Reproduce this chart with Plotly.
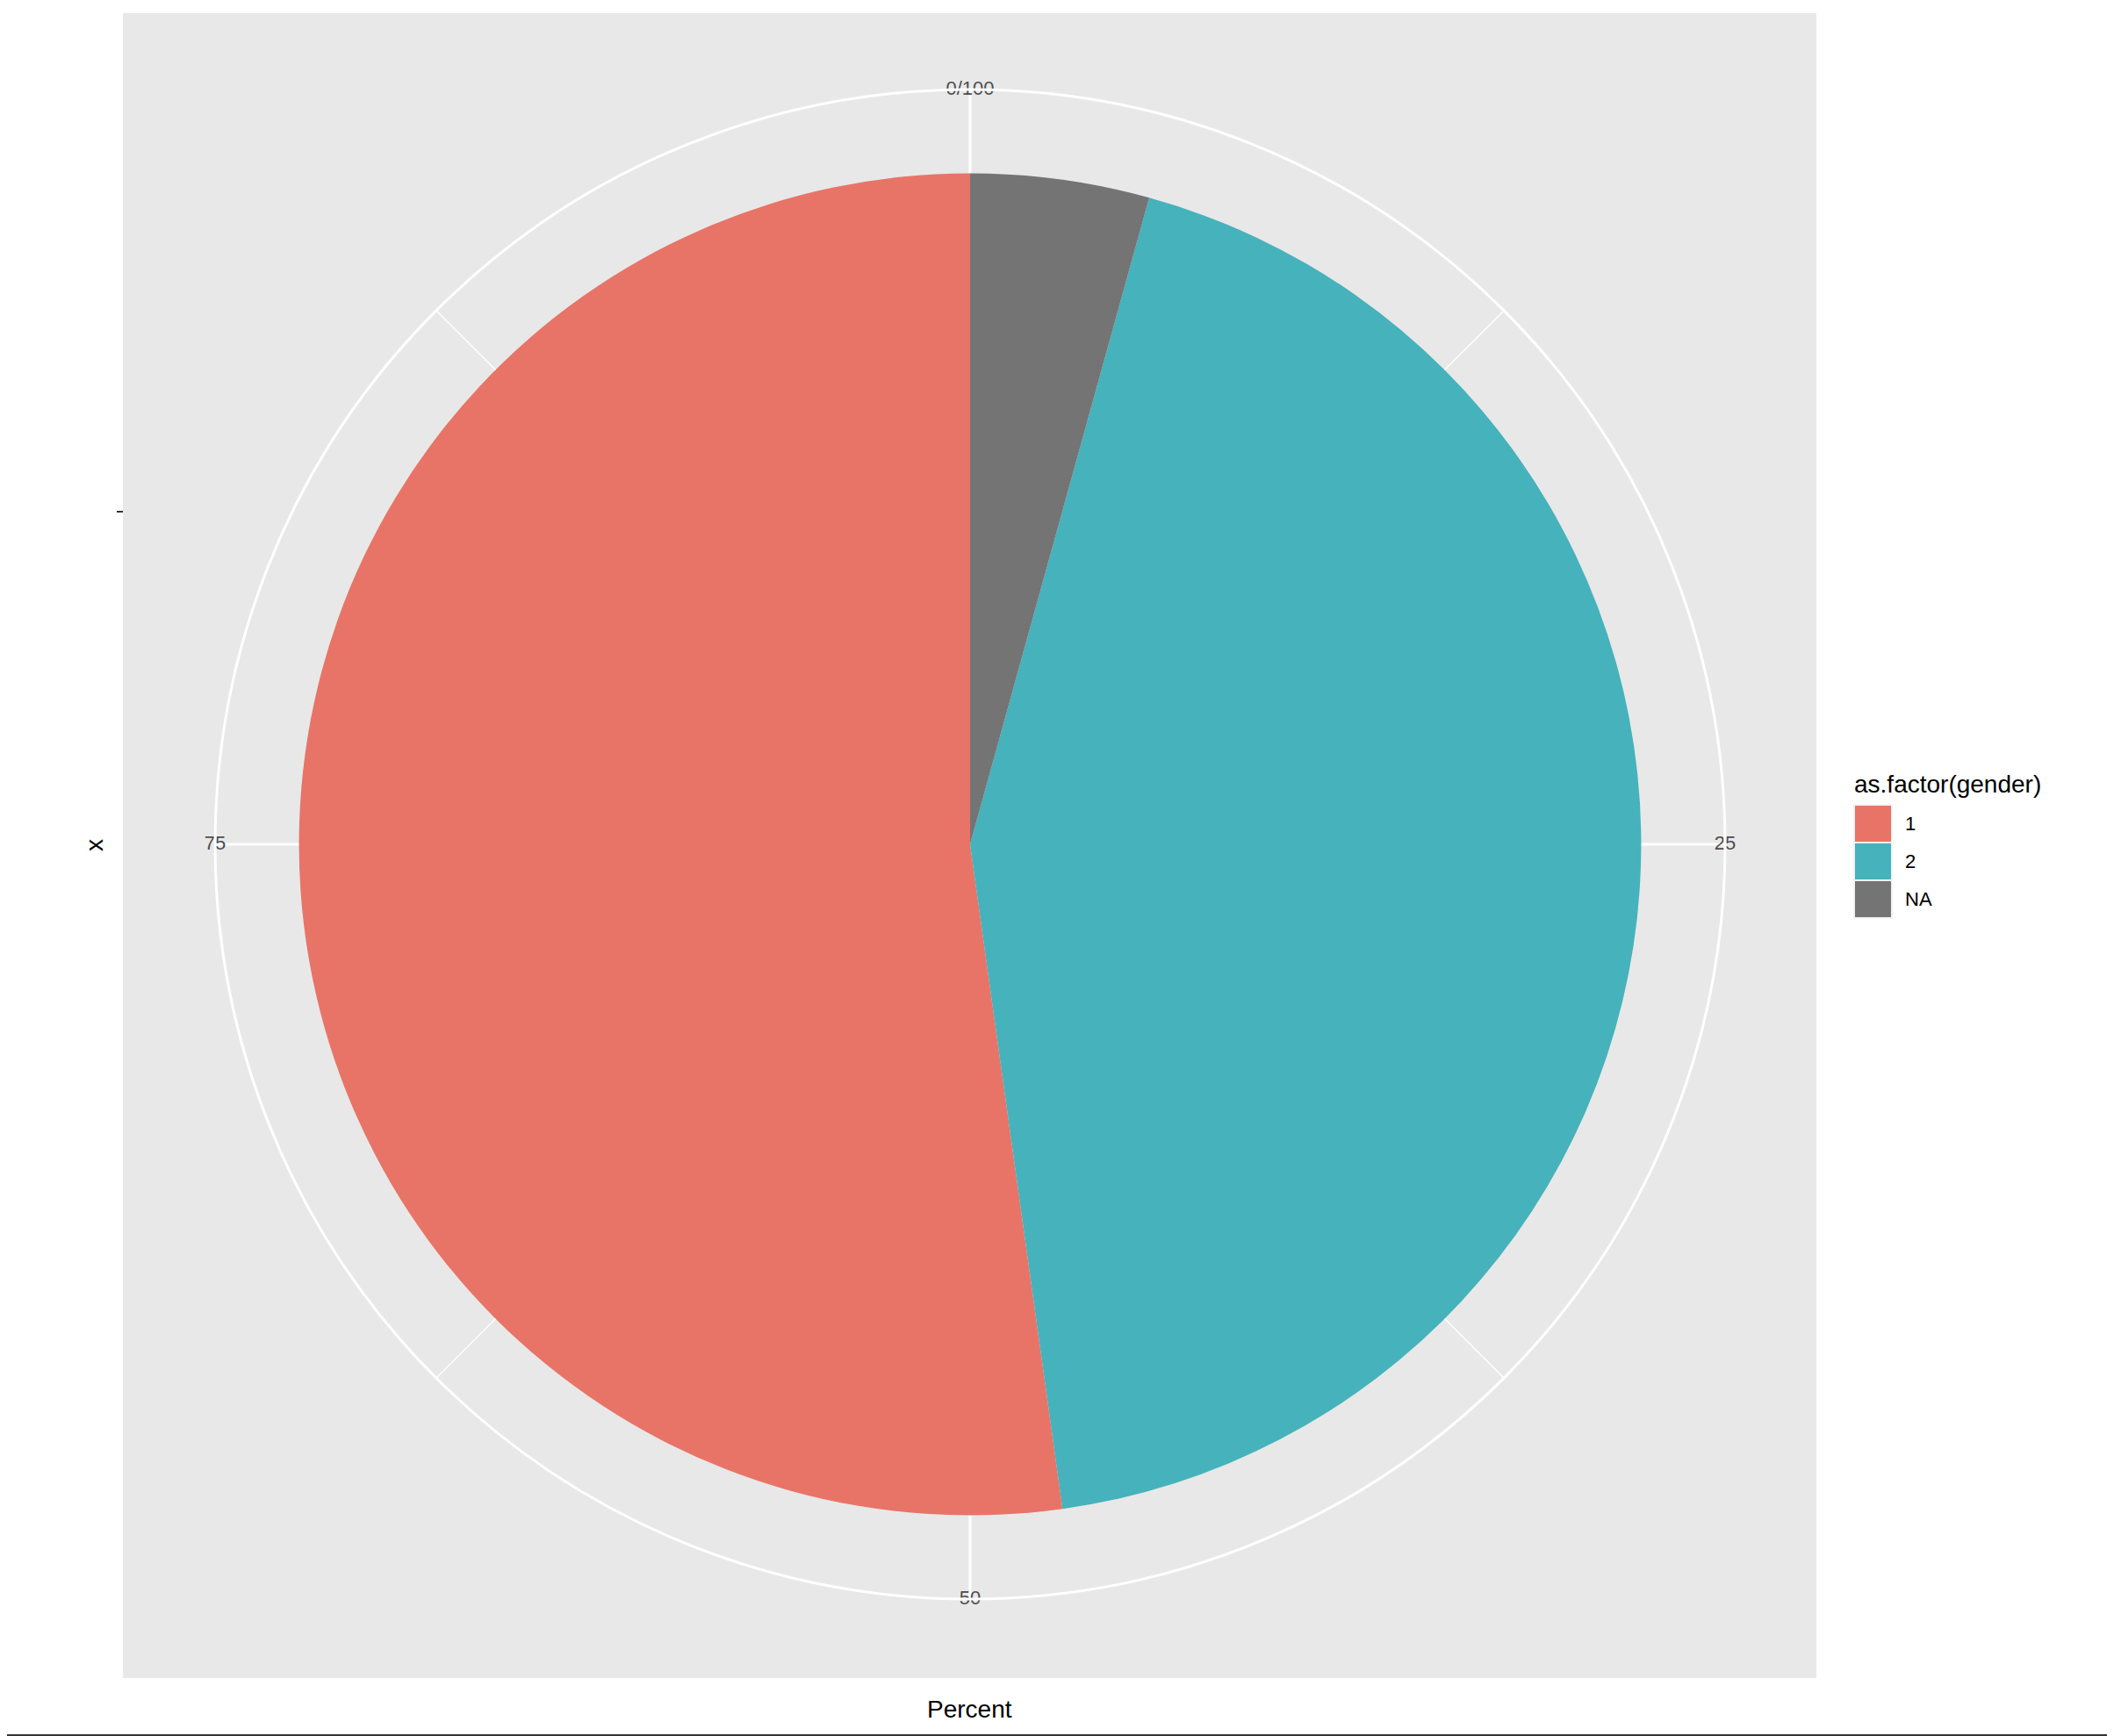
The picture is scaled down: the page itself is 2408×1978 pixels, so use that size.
import plotly.graph_objects as go

# ---- data ----
categories = ["1", "2", "NA"]
percents = [52.2, 43.5, 4.3]
colors = ["#E87468", "#46B2BC", "#747474"]
tick_vals = [0, 25, 50, 75]
tick_text = ["0/100", "25", "50", "75"]
minor_vals = [12.5, 37.5, 62.5, 87.5]

OFF = 8  # page body margin
W, H = 2400, 1970
L, R, T, B = 132, 339, 7, 66
PW, PH = W - L - R, H - T - B

def px(x):  # screen pixel -> paper
    return (x - OFF - L) / PW

def py(y):
    return (H - B - (y - OFF)) / PH

CX, CY, RAD = 1105, 962, 860
FONT = "Liberation Sans, Arial, sans-serif"

fig = go.Figure()

# stacking order: last category at 0 (top), going clockwise
starts = {}
acc = 0.0
for cat, p in zip(reversed(categories), reversed(percents)):
    starts[cat] = acc
    acc += p

for cat, p, col in zip(categories, percents, colors):
    fig.add_trace(go.Barpolar(
        r=[1], base=0,
        theta=[(starts[cat] + p / 2) * 3.6],
        width=[p * 3.6],
        marker=dict(color=col, line=dict(width=0)),
        name=cat, showlegend=False, hoverinfo="skip",
    ))

# minor theta grid lines (between pie edge and outer circle)
for m in minor_vals:
    fig.add_trace(go.Scatterpolar(
        r=[1.0, 1.125], theta=[m * 3.6, m * 3.6], mode="lines",
        line=dict(color="white", width=1.5), showlegend=False, hoverinfo="skip",
    ))

# theta tick labels, centred on the outer circle
fig.add_trace(go.Scatterpolar(
    r=[1.125] * len(tick_vals), theta=[v * 3.6 for v in tick_vals],
    mode="text", text=tick_text, textposition="middle center",
    textfont=dict(size=22, color="#4D4D4D", family=FONT),
    cliponaxis=False, showlegend=False, hoverinfo="skip",
))

fig.update_layout(
    width=W, height=H,
    margin=dict(l=L, r=R, t=T, b=B),
    paper_bgcolor="white",
    showlegend=False,
    font=dict(family=FONT),
    polar=dict(
        domain=dict(x=[px(CX - RAD), px(CX + RAD)], y=[py(CY + RAD), py(CY - RAD)]),
        bgcolor="rgba(0,0,0,0)",
        radialaxis=dict(range=[0, 1.125], showgrid=False, showline=False,
                        showticklabels=False, ticks=""),
        angularaxis=dict(direction="clockwise", rotation=90,
                         tickvals=[v * 3.6 for v in tick_vals],
                         showticklabels=False, ticks="",
                         showgrid=True, gridcolor="white", gridwidth=3,
                         showline=True, linecolor="white", linewidth=3),
    ),
)

shapes = [
    dict(type="rect", xref="paper", yref="paper", x0=0, x1=1, y0=0, y1=1,
         fillcolor="#E8E8E8", line=dict(width=0), layer="below"),
    # axis tick on the left (discrete x)
    dict(type="line", xref="paper", yref="paper", x0=px(133), x1=px(140),
         y0=py(583), y1=py(583), line=dict(color="#333333", width=2)),
    # bottom window edge
    dict(type="line", xref="paper", yref="paper", x0=px(OFF), x1=px(W + OFF),
         y0=py(1977), y1=py(1977), line=dict(color="#333333", width=2)),
]

annotations = [
    dict(text="Percent", x=px(1104), y=py(1947), xref="paper", yref="paper",
         showarrow=False, xanchor="center", yanchor="middle",
         font=dict(size=28, color="black", family=FONT)),
    dict(text="x", x=px(107), y=py(963), xref="paper", yref="paper",
         showarrow=False, xanchor="center", yanchor="middle", textangle=-90,
         font=dict(size=28, color="black", family=FONT)),
    dict(text="as.factor(gender)", x=px(2110), y=py(893), xref="paper", yref="paper",
         showarrow=False, xanchor="left", yanchor="middle",
         font=dict(size=28, color="black", family=FONT)),
]

key_top = 917
key_h = 43
for i, (cat, col) in enumerate(zip(categories, colors)):
    y0 = key_top + i * key_h
    shapes.append(dict(type="rect", xref="paper", yref="paper",
                       x0=px(2112), x1=px(2155), y0=py(y0), y1=py(y0 + key_h),
                       fillcolor=col, line=dict(color="#F2F2F2", width=2)))
    annotations.append(dict(text=cat, x=px(2168), y=py(y0 + key_h / 2),
                            xref="paper", yref="paper", showarrow=False,
                            xanchor="left", yanchor="middle",
                            font=dict(size=22, color="black", family=FONT)))

fig.update_layout(shapes=shapes, annotations=annotations)
fig.write_html("out.html")
